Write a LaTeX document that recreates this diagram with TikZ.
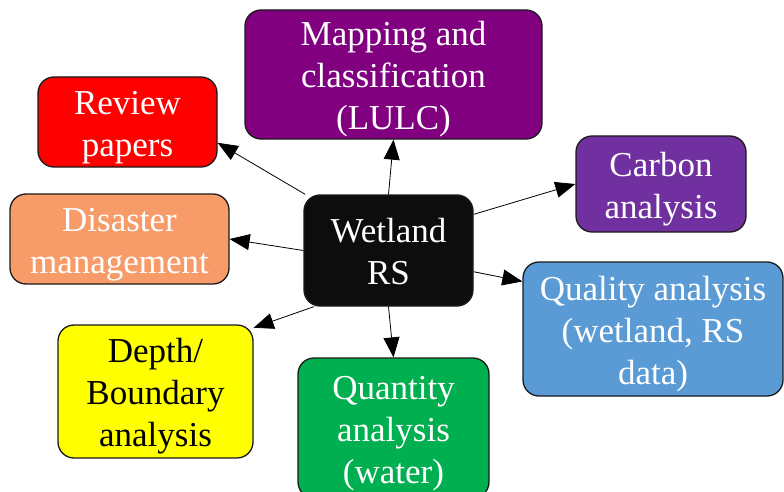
\documentclass[tikz,border=0pt]{standalone}
\usepackage{fontspec}
\setmainfont{Liberation Serif}
\usetikzlibrary{arrows.meta}
\definecolor{cmap}{HTML}{800080}
\definecolor{crev}{HTML}{FF0000}
\definecolor{ccar}{HTML}{7030A0}
\definecolor{cdis}{HTML}{F79B69}
\definecolor{cqual}{HTML}{5B9BD5}
\definecolor{cdep}{HTML}{FFFF00}
\definecolor{cqty}{HTML}{00B050}
\definecolor{cwet}{HTML}{0D0D0D}
\definecolor{cedge}{HTML}{1A1A1A}
\newcommand\mylast[1]{\smash{#1}\rule[-2.6pt]{0pt}{0pt}}
\tikzset{
  box/.style={draw=cedge, line width=1.3pt, rounded corners=16pt, align=center,
    inner sep=0pt, text=white, font=\fontsize{35}{42}\selectfont},
  arr/.style={line width=0.8pt, -{Triangle[length=20pt,width=16pt]}}
}
\begin{document}
\begin{tikzpicture}[x=1pt,y=1pt]
\useasboundingbox (0,0) rectangle (784,491);
\node[box, fill=cwet, minimum width=169pt, minimum height=111pt] (w) at (388.5,240.5) {\strut Wetland\\\mylast{RS}};
\node[box, fill=cmap, minimum width=297pt, minimum height=129pt] (map) at (393.5,416.5) {\strut Mapping and\\\strut classification\\\mylast{(LULC)}};
\node[box, fill=crev, minimum width=179pt, minimum height=90pt] (rev) at (127.5,369) {\strut Review\\\mylast{papers}};
\node[box, fill=cdis, minimum width=219pt, minimum height=90pt] (dis) at (119.5,252) {\strut Disaster\\\mylast{management}};
\node[box, fill=ccar, minimum width=170pt, minimum height=96pt] (car) at (661,307) {\strut Carbon\\\mylast{analysis}};
\node[box, fill=cqual, minimum width=260pt, minimum height=134pt] (qual) at (653,162) {\strut Quality analysis\\\strut (wetland, RS\\\mylast{data)}};
\node[box, fill=cdep, text=black, minimum width=195pt, minimum height=133pt] (dep) at (155.5,99.5) {\strut Depth/\\\strut Boundary\\\mylast{analysis}};
\node[box, fill=cqty, minimum width=191pt, minimum height=140pt] (qty) at (393.5,63) {\strut Quantity\\\strut analysis\\\mylast{(water)}};
\draw[arr] (w.146) -- (rev.-13);
\draw[arr] (w.north) -- (map.south);
\draw[arr] (w.23) -- (car.west);
\draw[arr] (w.-14) -- (qual.160);
\draw[arr] (w.south) -- (qty.north);
\draw[arr] (w.217) -- (dep.33);
\draw[arr] (w.west) -- (dis.east);
\end{tikzpicture}
\end{document}
